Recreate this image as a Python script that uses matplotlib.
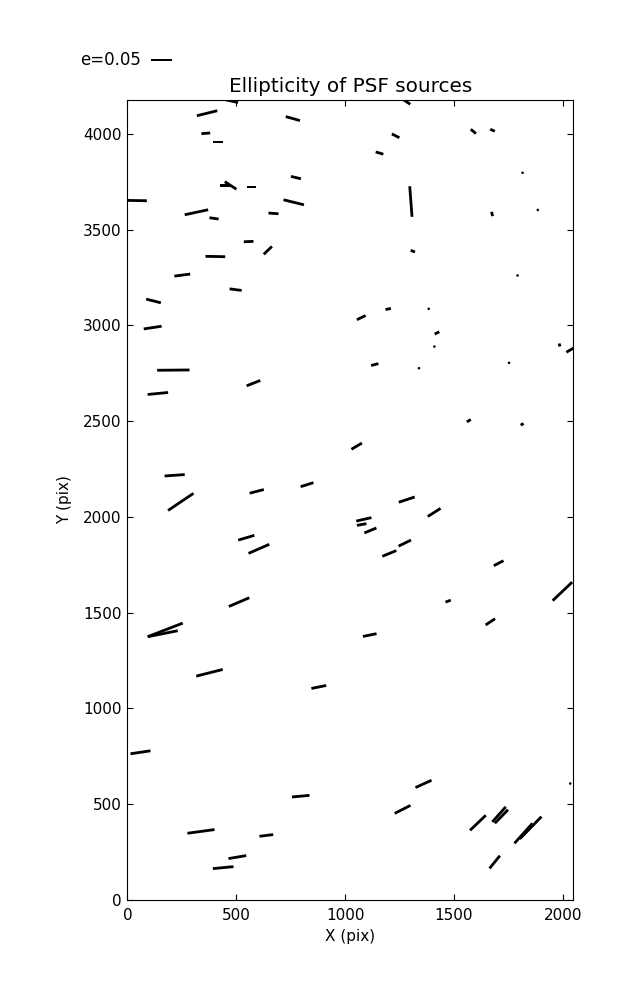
import numpy as np
import matplotlib
matplotlib.use('Agg')
import matplotlib.pyplot as plt

# PSF star positions (pix), ellipticity and position angle (deg, display frame)
x_pix = [480, 366, 760, 360, 418, 774, 450, 474, 570, 45,
         764, 317, 398, 671, 557, 645, 404, 1283, 1232, 1158,
         1589, 1677, 1815, 1302, 1885, 1675, 1311, 1792, 1198, 1384,
         1074, 252, 497, 120, 116, 211, 579, 140, 217, 1053,
         594, 825, 1422, 1410, 1136, 1339, 1753, 1985, 2037, 1568,
         1813, 1283, 1409, 1086, 1076, 1116, 245, 546, 604, 513,
         174, 162, 377, 879, 1203, 1274, 1705, 1998, 1473, 1667,
         1113, 60, 796, 338, 638, 505, 440, 1360, 1264, 1610,
         1707, 1718, 1819, 1852, 1687, 2034]
y_pix = [4170, 4107, 4079, 4002, 3957, 3771, 3729, 3730, 3722, 3651,
         3642, 3590, 3558, 3584, 3437, 3391, 3359, 4166, 3989, 3899,
         4012, 4018, 3796, 3646, 3602, 3581, 3387, 3260, 3085, 3086,
         3040, 3262, 3186, 3127, 2988, 2766, 2698, 2644, 2217, 2369,
         2133, 2168, 2960, 2889, 2795, 2776, 2804, 2897, 2873, 2502,
         2483, 2090, 2023, 1987, 1960, 1929, 2078, 1891, 1833, 1555,
         1410, 1390, 1186, 1112, 1809, 1863, 1758, 1611, 1560, 1452,
         1383, 771, 542, 358, 337, 224, 169, 606, 473, 403,
         447, 436, 348, 377, 198, 608]
e_val = [0.030, 0.050, 0.035, 0.021, 0.024, 0.0245, 0.026, 0.033, 0.020, 0.046,
         0.050, 0.057, 0.022, 0.024, 0.023, 0.027, 0.047, 0.020, 0.020, 0.019,
         0.016, 0.012, 0.006, 0.073, 0.002, 0.0105, 0.011, 0.002, 0.013, 0.002,
         0.023, 0.038, 0.029, 0.036, 0.043, 0.077, 0.035, 0.049, 0.048, 0.029,
         0.035, 0.032, 0.0125, 0.002, 0.018, 0.004, 0.002, 0.0075, 0.025, 0.011,
         0.008, 0.040, 0.036, 0.037, 0.023, 0.031, 0.073, 0.040, 0.054, 0.053,
         0.089, 0.073, 0.065, 0.036, 0.036, 0.033, 0.026, 0.064, 0.0135, 0.027,
         0.033, 0.048, 0.042, 0.065, 0.033, 0.043, 0.0495, 0.042, 0.042, 0.052,
         0.048, 0.045, 0.064, 0.074, 0.039, 0.003]
theta = [-12, 13.8, -15.6, 4.4, 0, -13.5, 0, -33, 0, -1,
         -13.8, 12.1, -8.2, -4, 2.4, 44, -1.2, -33.7, -26.6, -16.6,
         -39.7, -23, -60, 94.3, 0, -77, -21.6, 0, 10.7, 0,
         25.8, 7.3, -7.6, -14.2, 8.7, 0.5, 21.5, 5.6, 4, 30.7,
         14.5, 17.5, 26, 0, 15, -45, 0, -71.6, 30, 31,
         29.5, 18.3, 32.2, 12.8, 10.3, 22.6, 33.9, 16.4, 23.5, 23.1,
         21.2, 11.3, 14.1, 11.3, 22.2, 26, 27.3, 43.5, 20.7, 33.7,
         11.4, 8.5, 5.2, 7.8, 7.1, 9.6, 5.5, 24.5, 27, 43.7,
         48.4, 45.8, 48, 45.8, 51, 0]

plt.rcParams['font.size'] = 11
plt.rcParams['xtick.direction'] = 'in'
plt.rcParams['ytick.direction'] = 'in'
plt.rcParams['xtick.top'] = True
plt.rcParams['ytick.right'] = True
plt.rcParams['xtick.major.size'] = 4.5
plt.rcParams['ytick.major.size'] = 4.5
plt.rcParams['xtick.major.pad'] = 6
plt.rcParams['ytick.major.pad'] = 4

th = np.deg2rad(theta)
e = np.array(e_val)
u = e * np.cos(th)
v = e * np.sin(th)

fig = plt.figure(figsize=(6.37, 10), dpi=100)
ax = fig.add_axes([0.2, 0.1, 0.7, 0.8])
q = ax.quiver(x_pix, y_pix, u, v, angles='uv', pivot='middle',
              headwidth=0, headlength=0, headaxislength=0,
              units='dots', width=2.8, scale_units='inches', scale=0.05 / 0.21,
              color='k')
ax.quiverkey(q, 0.237, 0.94, 0.05, 'e=0.05', labelpos='W',
             coordinates='figure', labelsep=0.1, fontproperties={'size': 12})
ax.set_xlim(0, 2048)
ax.set_ylim(0, 4176)
ax.set_xticks(np.arange(0, 2001, 500))
ax.set_yticks(np.arange(0, 4001, 500))
ax.set_xlabel('X (pix)')
ax.set_ylabel('Y (pix)', labelpad=8)
ax.set_title('Ellipticity of PSF sources', fontsize=14.4)
fig.savefig('out.png', dpi=100)
